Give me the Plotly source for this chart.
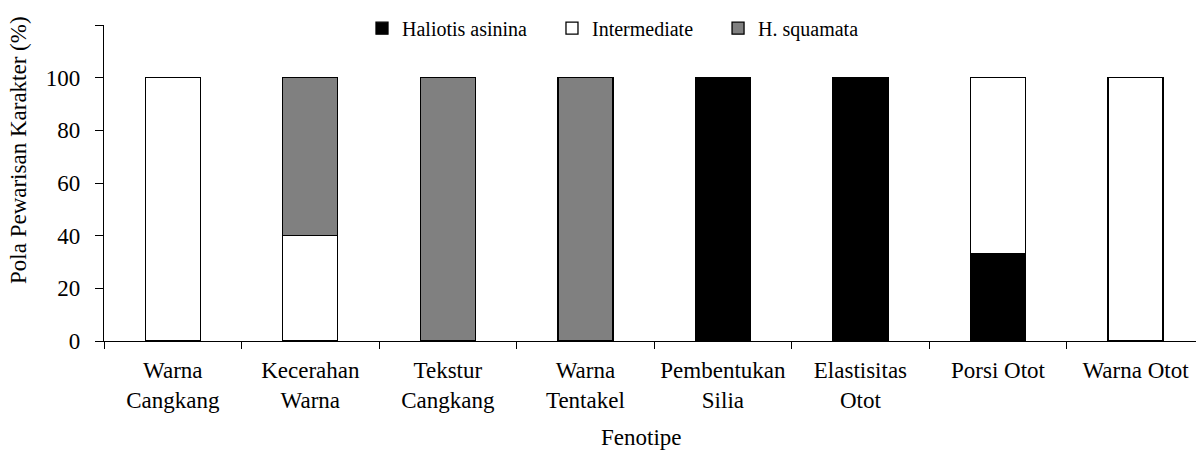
import plotly.graph_objects as go

categories = ["Warna<br>Cangkang", "Kecerahan<br>Warna", "Tekstur<br>Cangkang", "Warna<br>Tentakel",
              "Pembentukan<br>Silia", "Elastisitas<br>Otot", "Porsi Otot", "Warna Otot"]
asinina = [0, 0, 0, 0, 100, 100, 33.3, 0]
intermediate = [100, 40, 0, 0, 0, 0, 66.7, 100]
squamata = [0, 60, 100, 100, 0, 0, 0, 0]
series_names = ["Haliotis asinina", "Intermediate", "H. squamata"]
series_colors = ["#000000", "#ffffff", "#808080"]
yticks = [0, 20, 40, 60, 80, 100, 120]
yticktext = ["0", "20", "40", "60", "80", "100", ""]

FONT = "Liberation Serif"
FS = 23
LFS = 20

fig = go.Figure()
for name, vals, col in zip(series_names, [asinina, intermediate, squamata], series_colors):
    fig.add_trace(go.Bar(
        x=categories, y=vals, name=name + "\u00a0" * 4,
        marker=dict(color=col, line=dict(color="#000000", width=1.3)),
        width=0.4,
    ))

fig.update_layout(
    barmode="stack",
    width=1196, height=452,
    margin=dict(l=104, r=0, t=25, b=111, autoexpand=False),
    plot_bgcolor="white", paper_bgcolor="white",
    font=dict(family=FONT, size=FS, color="black"),
    showlegend=True,
    legend=dict(orientation="h", x=(362 - 104) / 1092, xanchor="left", y=0.99, yanchor="middle",
                bgcolor="rgba(0,0,0,0)", font=dict(family=FONT, size=LFS, color="black"),
                itemwidth=30, traceorder="normal"),
    xaxis=dict(
        type="category", range=[-0.5, 7.44], automargin=False,
        showline=True, linecolor="black", linewidth=1.3,
        ticks="outside", ticklen=7, tickcolor="black", tickwidth=1.3,
        tickson="boundaries", showgrid=False, zeroline=False,
        ticklabelstandoff=8,
        tickfont=dict(family=FONT, size=FS, color="black"),
    ),
    yaxis=dict(
        range=[0, 120], tickvals=yticks, ticktext=yticktext, automargin=False,
        showline=True, linecolor="black", linewidth=1.3,
        ticks="outside", ticklen=8, tickcolor="black", tickwidth=1.3,
        ticklabelstandoff=10, showgrid=False, zeroline=False,
        tickfont=dict(family=FONT, size=FS, color="black"),
    ),
    annotations=[
        dict(text="Pola Pewarisan Karakter (%)", textangle=-90, xref="paper", yref="paper",
             x=(18 - 104) / 1092, y=(341 - 150) / 316, xanchor="center", yanchor="middle",
             showarrow=False, font=dict(family=FONT, size=FS, color="black")),
        dict(text="Fenotipe", xref="paper", yref="paper",
             x=(641 - 104) / 1092, y=(341 - 437) / 316, xanchor="center", yanchor="middle",
             showarrow=False, font=dict(family=FONT, size=FS, color="black")),
    ],
)

fig.write_html("out.html", config={"displayModeBar": False},
               post_script="document.body.style.margin='0';document.body.style.overflow='hidden';")
